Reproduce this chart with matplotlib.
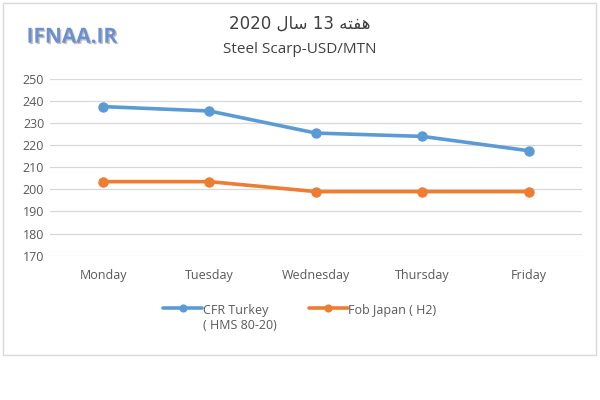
import matplotlib
matplotlib.use('Agg')
import matplotlib.pyplot as plt
import matplotlib.patches as patches
import matplotlib.patheffects as pe

plt.rcParams['font.family'] = ['Open Sans', 'DejaVu Sans']

days = ['Monday', 'Tuesday', 'Wednesday', 'Thursday', 'Friday']
cfr_turkey = [237.5, 235.5, 225.5, 224, 217.5]
fob_japan = [203.5, 203.5, 199, 199, 199]
yticks = [170, 180, 190, 200, 210, 220, 230, 240, 250]

# Persian title "هفته 13 سال 2020" written in shaped presentation forms, visual order
title_fa = '2020 \ufedd\ufe8e\ufeb3 13 \ufeea\ufe98\ufed4\ufeeb'
title_en = 'Steel Scarp-USD/MTN'

fig = plt.figure(figsize=(6, 4), dpi=100)
ax = fig.add_axes([0.083, 0.361, 0.887, 0.4415])

x = list(range(len(days)))
ax.plot(x, cfr_turkey, color='#5B9BD5', lw=2.6, marker='o', ms=6.5,
        label='CFR Turkey\n( HMS 80-20)', solid_capstyle='round')
ax.plot(x, fob_japan, color='#ED7D31', lw=2.6, marker='o', ms=6.5,
        label='Fob Japan ( H2)', solid_capstyle='round')

ax.set_xlim(-0.5, 4.5)
ax.set_ylim(170, 250)
ax.set_yticks(yticks)
ax.set_xticks(x)
ax.set_xticklabels(days)
ax.grid(axis='y', color='#d9d9d9', lw=0.9)
ax.set_axisbelow(True)
for s in ax.spines.values():
    s.set_visible(False)
ax.tick_params(length=0, labelsize=9, labelcolor='#595959')
ax.tick_params(axis='x', pad=10)
ax.tick_params(axis='y', pad=4)

leg = fig.legend(loc='upper center', bbox_to_anchor=(0.5, 0.268), ncol=2,
                 frameon=False, fontsize=9, labelcolor='#595959',
                 handlelength=3.1, columnspacing=2.6, handletextpad=0.05,
                 markerscale=0.75)
# put the legend line next to the first line of a two-line label
leg._legend_handle_box.align = 'top'
for col in leg._legend_handle_box.get_children():
    for item in col.get_children():
        item.align = 'top'

fig.text(0.5, 0.94, title_fa, ha='center', va='center', fontsize=12,
         color='#404040', family=['DejaVu Sans'])
fig.text(0.5, 0.877, title_en, ha='center', va='center', fontsize=11,
         color='#404040')

fig.text(0.12, 0.907, 'IFNAA.IR', ha='center', va='center', fontsize=15,
         fontweight='bold', color='#6b8fcf',
         path_effects=[pe.withSimplePatchShadow(offset=(1, -1), shadow_rgbFace='#9a9a9a', alpha=0.6)])

border = patches.Rectangle((3 / 600, 1 - 355 / 400), 593 / 600, 352 / 400,
                           transform=fig.transFigure, fill=False,
                           edgecolor='#d9d9d9', lw=1)
fig.patches.append(border)

fig.savefig('out.png', dpi=100)
